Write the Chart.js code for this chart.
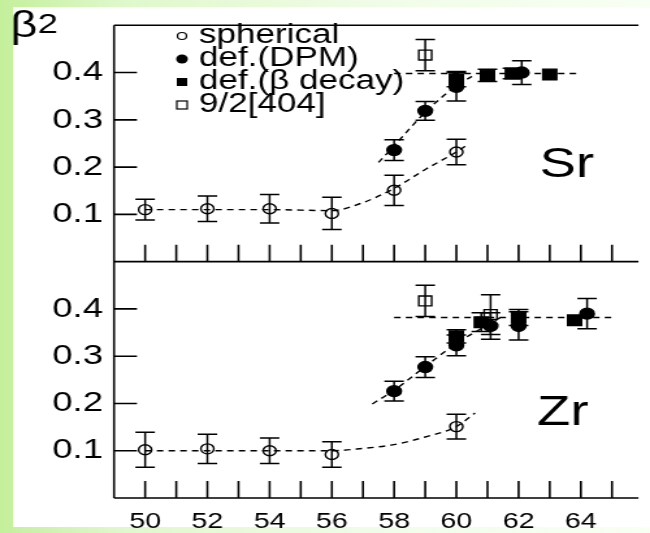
<!DOCTYPE html>
<html>
<head>
<meta charset="utf-8">
<script src="https://cdn.jsdelivr.net/npm/chart.js@4.4.1/dist/chart.umd.min.js"></script>
<style>
  html, body { margin: 0; padding: 0; width: 650px; height: 533px; overflow: hidden;
    background: linear-gradient(90deg, #c4ef9b 0px, #dff8cb 120px, #f1fce8 380px, #f8fff3 650px); }
  #paper { position: absolute; left: 13px; top: 7px; width: 637px; height: 520px; background: #fff; }
  #chart { position: absolute; left: 0; top: 0; }
</style>
</head>
<body>
<div id="paper"></div>
<!-- the reference picture is stretched sideways, so the chart is drawn 500 wide and shown 650 wide -->
<canvas id="chart" width="500" height="533" style="width:650px;height:533px"></canvas>
<script>
// ---- Sr panel ----
const srSphN   = [50, 52, 54, 56, 58, 60];
const srSphB   = [0.110, 0.112, 0.112, 0.102, 0.151, 0.232];
const srSphErr = [0.022, 0.027, 0.030, 0.034, 0.032, 0.027];

const srDpmN   = [58, 59, 60, 62.1];
const srDpmB   = [0.236, 0.319, 0.370, 0.400];
const srDpmErr = [0.022, 0.020, 0.030, 0.025];

const srBetaN   = [60, 61, 61.8, 63];
const srBetaB   = [0.386, 0.394, 0.398, 0.396];
const srBetaErr = [0.016, 0.013, 0.011, 0];

const srNilN   = [59];
const srNilB   = [0.437];
const srNilErr = [0.033];

// dashed guide curves
const srSphFitN = [50, 52, 54, 56, 57, 58, 59, 60, 60.3];
const srSphFitB = [0.110, 0.110, 0.110, 0.108, 0.125, 0.155, 0.195, 0.232, 0.245];
const srDefFitN = [57.5, 58, 59, 60, 60.5];
const srDefFitB = [0.210, 0.245, 0.316, 0.372, 0.392];
const srFlatN = [58, 64];
const srFlatB = [0.398, 0.398];

// ---- Zr panel ----
const zrSphN   = [50, 52, 54, 56, 60];
const zrSphB   = [0.102, 0.104, 0.100, 0.092, 0.151];
const zrSphErr = [0.037, 0.031, 0.027, 0.027, 0.026];

const zrDpmN   = [58, 59, 60, 61.1, 62, 64.2];
const zrDpmB   = [0.226, 0.277, 0.323, 0.364, 0.364, 0.390];
const zrDpmErr = [0.021, 0.022, 0.022, 0.028, 0.030, 0.032];

const zrBetaN   = [60, 60.8, 62, 63.8];
const zrBetaB   = [0.342, 0.372, 0.382, 0.376];
const zrBetaErr = [0.014, 0.020, 0.017, 0];

const zrNilN   = [59, 61.1];
const zrNilB   = [0.417, 0.388];
const zrNilErr = [0.033, 0.042];

const zrSphFitN = [50, 52, 54, 56, 57, 58, 59, 60, 60.6];
const zrSphFitB = [0.100, 0.100, 0.100, 0.100, 0.105, 0.113, 0.129, 0.151, 0.180];
const zrDefFitN = [57.3, 58, 59, 60, 61, 61.5];
const zrDefFitB = [0.199, 0.228, 0.278, 0.327, 0.366, 0.385];
const zrFlatN = [58, 65];
const zrFlatB = [0.382, 0.382];

// ---- axes / legend ----
const xTickLabels = [50, 52, 54, 56, 58, 60, 62, 64];
const xMinorTicks = [50, 51, 52, 53, 54, 55, 56, 57, 58, 59, 60, 61, 62, 63, 64, 65];
const yTickLabels = [0.1, 0.2, 0.3, 0.4];
const legendLabels = ['spherical', 'def.(DPM)', 'def.(\u03b2 decay)', '9/2[404]'];

const FONT = '"Liberation Sans", Arial, sans-serif';

function pts(ns, bs) {
  return ns.map((n, i) => ({ x: n, y: bs[i] }));
}

const openCircle = { pointStyle: 'circle', pointRadius: 5, pointBackgroundColor: 'rgba(0,0,0,0)' };
const fullCircle = { pointStyle: 'circle', pointRadius: 5.5, pointBackgroundColor: '#000' };
const fullSquare = { pointStyle: 'rect', pointRadius: 7.5, pointBackgroundColor: '#000' };
const openSquare = { pointStyle: 'rect', pointRadius: 7, pointBackgroundColor: 'rgba(0,0,0,0)' };

function marks(label, ns, bs, errs, axis, style) {
  return Object.assign({
    label: label, data: pts(ns, bs), errors: errs, yAxisID: axis,
    pointBorderColor: '#000', pointBorderWidth: 1.4, showLine: false, clip: false
  }, style);
}

function fit(ns, bs, axis) {
  return {
    data: pts(ns, bs), yAxisID: axis, showLine: true, pointRadius: 0,
    borderColor: '#000', borderWidth: 1.4, borderDash: [5, 4],
    cubicInterpolationMode: 'monotone', fill: false, clip: false
  };
}

// vertical error bars with caps, placed through the chart scales
const errorBars = {
  id: 'errorBars',
  afterDatasetsDraw(chart) {
    const ctx = chart.ctx, xs = chart.scales.x;
    ctx.save();
    ctx.strokeStyle = '#000';
    ctx.lineWidth = 1.5;
    chart.data.datasets.forEach(ds => {
      if (!ds.errors) return;
      const ys = chart.scales[ds.yAxisID];
      ds.data.forEach((p, i) => {
        const e = ds.errors[i];
        if (!e) return;
        const px = xs.getPixelForValue(p.x);
        const top = ys.getPixelForValue(p.y + e);
        const bot = ys.getPixelForValue(p.y - e);
        ctx.beginPath();
        ctx.moveTo(px, top); ctx.lineTo(px, bot);
        ctx.moveTo(px - 7.5, top); ctx.lineTo(px + 7.5, top);
        ctx.moveTo(px - 7.5, bot); ctx.lineTo(px + 7.5, bot);
        ctx.stroke();
      });
    });
    ctx.restore();
  }
};

// frame lines and inward tick marks of both panels
const frame = {
  id: 'frame',
  beforeDatasetsDraw(chart) {
    const { ctx, chartArea: a, scales } = chart;
    ctx.save();
    ctx.strokeStyle = '#000';
    ctx.lineWidth = 1.6;
    ctx.beginPath();
    ctx.moveTo(a.left, a.top); ctx.lineTo(a.left, a.bottom);
    [a.top, scales.yZr.top, a.bottom].forEach(y => { ctx.moveTo(a.left, y); ctx.lineTo(a.right, y); });
    ['ySr', 'yZr'].forEach(id => {
      const s = scales[id];
      yTickLabels.forEach(v => {
        const y = s.getPixelForValue(v);
        ctx.moveTo(a.left, y); ctx.lineTo(a.left + 17.7, y);
      });
      xMinorTicks.forEach(n => {
        const x = scales.x.getPixelForValue(n);
        ctx.moveTo(x, s.bottom); ctx.lineTo(x, s.bottom - 17);
      });
    });
    ctx.stroke();
    ctx.restore();
  }
};

// beta_2 title, nucleus names and the key
const notes = {
  id: 'notes',
  afterDraw(chart) {
    const ctx = chart.ctx;
    ctx.save();
    ctx.fillStyle = '#000';
    ctx.strokeStyle = '#000';
    ctx.textBaseline = 'alphabetic';
    ctx.font = '36px ' + FONT;
    ctx.fillText('\u03b2', 8, 37);
    ctx.font = '28px ' + FONT;
    ctx.fillText('2', 29, 33);
    ctx.font = '42px ' + FONT;
    ctx.fillText('Sr', 415, 177);
    ctx.fillText('Zr', 413, 425);

    const rows = [36, 59, 82, 105];
    const mx = 140;
    ctx.lineWidth = 1.2;
    // open circle
    ctx.beginPath(); ctx.arc(mx, rows[0], 3.5, 0, Math.PI * 2); ctx.stroke();
    // filled circle
    ctx.beginPath(); ctx.arc(mx, rows[1], 4.5, 0, Math.PI * 2); ctx.fill();
    // filled square
    ctx.fillRect(mx - 4, rows[2] - 4, 8, 8);
    // open square
    ctx.strokeRect(mx - 4, rows[3] - 4, 8, 8);

    ctx.font = '27px ' + FONT;
    ctx.textBaseline = 'middle';
    legendLabels.forEach((t, i) => ctx.fillText(t, 153, rows[i]));
    ctx.restore();
  }
};

new Chart(document.getElementById('chart'), {
  type: 'scatter',
  data: {
    datasets: [
      marks(legendLabels[0], srSphN, srSphB, srSphErr, 'ySr', openCircle),
      marks(legendLabels[1], srDpmN, srDpmB, srDpmErr, 'ySr', fullCircle),
      marks(legendLabels[2], srBetaN, srBetaB, srBetaErr, 'ySr', fullSquare),
      marks(legendLabels[3], srNilN, srNilB, srNilErr, 'ySr', openSquare),
      marks(legendLabels[0], zrSphN, zrSphB, zrSphErr, 'yZr', openCircle),
      marks(legendLabels[1], zrDpmN, zrDpmB, zrDpmErr, 'yZr', fullCircle),
      marks(legendLabels[2], zrBetaN, zrBetaB, zrBetaErr, 'yZr', fullSquare),
      marks(legendLabels[3], zrNilN, zrNilB, zrNilErr, 'yZr', openSquare),
      fit(srSphFitN, srSphFitB, 'ySr'),
      fit(srDefFitN, srDefFitB, 'ySr'),
      fit(srFlatN, srFlatB, 'ySr'),
      fit(zrSphFitN, zrSphFitB, 'yZr'),
      fit(zrDefFitN, zrDefFitB, 'yZr'),
      fit(zrFlatN, zrFlatB, 'yZr')
    ]
  },
  options: {
    responsive: false,
    animation: false,
    events: [],
    layout: { padding: { top: 7, right: 0, bottom: 0, left: 0 } },
    plugins: { legend: { display: false }, tooltip: { enabled: false } },
    scales: {
      x: {
        type: 'linear', position: 'bottom', min: 49, max: 65.85,
        afterBuildTicks: s => { s.ticks = xTickLabels.map(v => ({ value: v })); },
        afterFit: s => { s.height = 35; },
        grid: { display: false, drawTicks: false },
        border: { display: false },
        ticks: { color: '#000', padding: 11, font: { family: FONT, size: 22 } }
      },
      // first scale in the stack ends up at the bottom
      yZr: {
        type: 'linear', position: 'left', stack: 'beta', stackWeight: 1, min: 0, max: 0.5,
        afterBuildTicks: s => { s.ticks = yTickLabels.map(v => ({ value: v })); },
        afterFit: s => { s.width = 87.7; },
        grid: { display: false, drawTicks: false },
        border: { display: false },
        ticks: { color: '#000', padding: 8.5, font: { family: FONT, size: 28 } }
      },
      ySr: {
        type: 'linear', position: 'left', stack: 'beta', stackWeight: 1, min: 0, max: 0.5,
        afterBuildTicks: s => { s.ticks = yTickLabels.map(v => ({ value: v })); },
        afterFit: s => { s.width = 87.7; },
        grid: { display: false, drawTicks: false },
        border: { display: false },
        ticks: { color: '#000', padding: 8.5, font: { family: FONT, size: 28 } }
      }
    }
  },
  plugins: [frame, errorBars, notes]
});
</script>
</body>
</html>
